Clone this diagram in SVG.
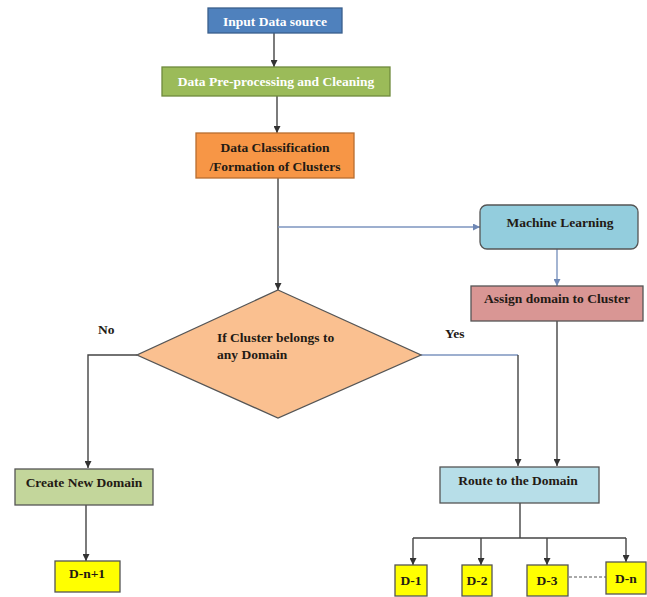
<svg xmlns="http://www.w3.org/2000/svg" width="647" height="597" viewBox="0 0 647 597" font-family="'Liberation Serif', 'Times New Roman', serif">
<defs>
<style>
text{font-family:"Liberation Serif","Times New Roman",serif;font-weight:bold;font-size:13.5px;fill:#231a14}
.c{text-anchor:middle}
.w{fill:#ffffff}
.box{stroke:#555555;stroke-width:1.3}
.ln{fill:none;stroke:#444444;stroke-width:1.4}
.bl{fill:none;stroke:#7d95bf;stroke-width:1.4}
</style>
<marker id="ah" viewBox="0 0 10 10" refX="10" refY="5" markerWidth="7" markerHeight="7" markerUnits="userSpaceOnUse" orient="auto">
<path d="M0,0 L10,5 L0,10 z" fill="#333333"/>
</marker>
<marker id="ahb" viewBox="0 0 10 10" refX="10" refY="5" markerWidth="7" markerHeight="7" markerUnits="userSpaceOnUse" orient="auto">
<path d="M0,0 L10,5 L0,10 z" fill="#6f88b5"/>
</marker>
</defs>
<rect width="647" height="597" fill="#ffffff"/>

<g id="connectors">
<line class="ln" x1="274" y1="33" x2="274" y2="67" marker-end="url(#ah)"/>
<line class="ln" x1="277" y1="96" x2="277" y2="133" marker-end="url(#ah)"/>
<line class="ln" x1="278" y1="178" x2="278" y2="290" marker-end="url(#ah)"/>
<line class="bl" x1="278" y1="227" x2="480" y2="227" marker-end="url(#ahb)"/>
<line class="bl" x1="557" y1="249" x2="557" y2="286" marker-end="url(#ahb)"/>
<line class="ln" x1="557" y1="321" x2="557" y2="466" marker-end="url(#ah)"/>
<polyline class="ln" points="137,355 88,355 88,468" marker-end="url(#ah)"/>
<line class="bl" x1="421" y1="355" x2="518" y2="355"/>
<line class="ln" x1="518" y1="355" x2="518" y2="466" marker-end="url(#ah)"/>
<line class="ln" x1="86" y1="505" x2="86" y2="561" marker-end="url(#ah)"/>
<polyline class="ln" points="520,503 520,538"/>
<line class="ln" x1="413" y1="538" x2="626" y2="538"/>
<line class="ln" x1="413" y1="538" x2="413" y2="565" marker-end="url(#ah)"/>
<line class="ln" x1="481" y1="538" x2="481" y2="565" marker-end="url(#ah)"/>
<line class="ln" x1="547" y1="538" x2="547" y2="565" marker-end="url(#ah)"/>
<line class="ln" x1="626" y1="538" x2="626" y2="562" marker-end="url(#ah)"/>
<line x1="569" y1="577" x2="606" y2="577" stroke="#555555" stroke-width="1" stroke-dasharray="3,2"/>
</g>

<g id="input">
<rect x="208" y="8" width="134" height="25" fill="#4f81bd" stroke="#3a5f8c" stroke-width="1.3"/>
<text class="c w" x="275" y="25.5">Input Data source</text>
</g>
<g id="preprocess">
<rect x="162" y="67" width="228" height="29" fill="#9bbb59" stroke="#6f8a3c" stroke-width="1.3"/>
<text class="c w" x="276" y="86">Data Pre-processing  and Cleaning</text>
</g>
<g id="classification">
<rect x="196" y="133" width="158" height="45" fill="#f79646" stroke="#b86e30" stroke-width="1.3"/>
<text class="c" x="275" y="151.5">Data Classification</text>
<text class="c" x="275" y="170.5">/Formation  of Clusters</text>
</g>
<g id="ml">
<rect class="box" x="480" y="205" width="158" height="44" rx="7" fill="#93cddd"/>
<text class="c" x="560" y="226.5">Machine Learning</text>
</g>
<g id="assign">
<rect class="box" x="471" y="286" width="172" height="35" fill="#d99694"/>
<text class="c" x="557" y="302.5">Assign domain to Cluster</text>
</g>
<g id="decision">
<polygon class="box" points="278,290 421,355 278,418 137,355" fill="#fac090"/>
<text x="217" y="341.5">If Cluster belongs to</text>
<text x="217" y="358.5">any Domain</text>
</g>
<g id="labels">
<text x="98" y="333.5">No</text>
<text x="445" y="337.5">Yes</text>
</g>
<g id="newdomain">
<rect class="box" x="15" y="469" width="138" height="36" fill="#c3d69b"/>
<text class="c" x="84" y="486.5">Create New  Domain</text>
</g>
<g id="dn1">
<rect class="box" x="55" y="561" width="65" height="31" fill="#ffff00"/>
<text class="c" x="87" y="578">D-n+1</text>
</g>
<g id="route">
<rect class="box" x="440" y="467" width="159" height="36" fill="#b7dee8"/>
<text class="c" x="518" y="484.5">Route to the Domain</text>
</g>
<g id="d1">
<rect class="box" x="395" y="565" width="32" height="31" fill="#ffff00"/>
<text class="c" x="411" y="585">D-1</text>
</g>
<g id="d2">
<rect class="box" x="462" y="565" width="30" height="31" fill="#ffff00"/>
<text class="c" x="477" y="585">D-2</text>
</g>
<g id="d3">
<rect class="box" x="527" y="565" width="41" height="31" fill="#ffff00"/>
<text class="c" x="547" y="585">D-3</text>
</g>
<g id="dn">
<rect class="box" x="606" y="562" width="40" height="32" fill="#ffff00"/>
<text class="c" x="626" y="582.5">D-n</text>
</g>
</svg>
